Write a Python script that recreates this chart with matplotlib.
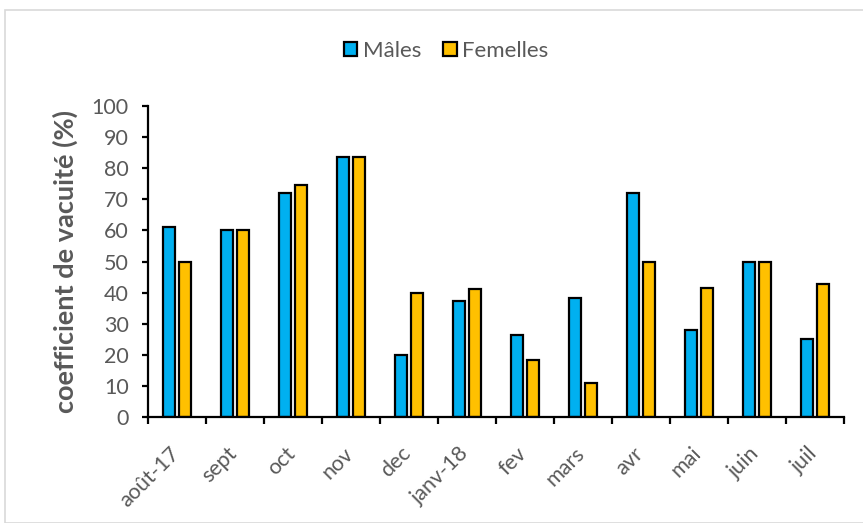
import numpy as np
import matplotlib
matplotlib.use("Agg")
import matplotlib.pyplot as plt
from matplotlib.patches import Rectangle
from matplotlib.transforms import ScaledTranslation

mois = ["août-17", "sept", "oct", "nov", "dec", "janv-18", "fev", "mars",
        "avr", "mai", "juin", "juil"]
males = [61, 60, 72, 83.5, 20, 37.3, 26.3, 38.4, 72, 27.9, 50, 25.1]
femelles = [50, 60, 74.7, 83.5, 40, 41, 18.2, 10.9, 50, 41.4, 50, 42.9]

gris = "#595959"
plt.rcParams["font.family"] = ["Lato", "DejaVu Sans"]

fig = plt.figure(figsize=(8.63, 5.23), dpi=100)
ax = fig.add_axes([148/863, 1-417/523, (844-148)/863, (417-106)/523])

x = np.arange(len(mois))
w = 0.2
ax.bar(x-0.14, males, w, color="#00B0F0", edgecolor="black", linewidth=1.6, label="Mâles")
ax.bar(x+0.14, femelles, w, color="#FFC000", edgecolor="black", linewidth=1.6, label="Femelles")

ax.set_xlim(-0.5, len(mois)-0.5)
ax.set_ylim(0, 100)
ax.set_yticks(np.arange(0, 101, 10))
ax.set_xticks(x)
ax.set_xticklabels(mois, rotation=45, ha="right")
ax.set_xticks(np.arange(-0.5, len(mois)), minor=True)
ax.tick_params(axis="x", which="major", length=0, pad=19, labelsize=15.5, labelcolor=gris)
ax.tick_params(axis="x", which="minor", length=5, width=1.6, direction="out")
ax.tick_params(axis="y", length=4, width=1.6, direction="out", pad=10,
               labelsize=15.5, labelcolor=gris)
shift = ScaledTranslation(6/100, 0, fig.dpi_scale_trans)
for lab in ax.get_xticklabels():
    lab.set_transform(lab.get_transform() + shift)

for s in ["top", "right"]:
    ax.spines[s].set_visible(False)
ax.spines["left"].set_linewidth(1.6)
ax.spines["bottom"].set_linewidth(1.6)

ax.set_ylabel("coefficient de vacuité (%)", fontsize=19.5, fontweight="bold",
              color=gris, labelpad=10)

fig.legend(loc="center", bbox_to_anchor=(446/863, 1-51/523), ncol=2, frameon=False,
           fontsize=16, labelcolor=gris, handlelength=0.6, handleheight=0.6,
           handletextpad=0.25, columnspacing=1.0)

fig.patches.append(Rectangle((5/863, 0), 1, 1-10/523, transform=fig.transFigure,
                             fill=False, edgecolor="#d9d9d9", linewidth=1.2))

fig.savefig("out.png", dpi=100)
